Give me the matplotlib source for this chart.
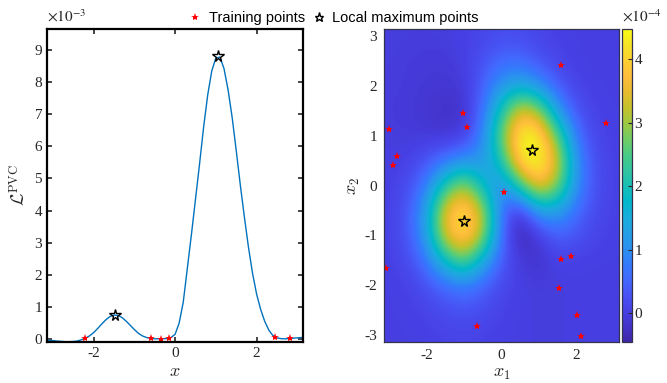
import numpy as np
import matplotlib
matplotlib.use("Agg")
import matplotlib.pyplot as plt
from matplotlib.colors import LinearSegmentedColormap
from matplotlib.lines import Line2D

plt.rcParams['mathtext.fontset'] = 'cm'
plt.rcParams['font.family'] = 'Liberation Serif'

# ---- 1D curve (values in units of 1e-3) ----
x_curve = [-3.14, -3.1, -3.0, -2.9, -2.8, -2.7, -2.6, -2.5, -2.4, -2.3, -2.2, -2.1,
           -2.0, -1.9, -1.8, -1.7, -1.6, -1.5, -1.4, -1.3, -1.2, -1.1, -1.0, -0.9,
           -0.8, -0.7, -0.6, -0.5, -0.4, -0.3, -0.2, -0.1, 0.0, 0.1, 0.2, 0.3, 0.4,
           0.5, 0.6, 0.7, 0.8, 0.9, 1.0, 1.1, 1.2, 1.3, 1.4, 1.5, 1.6, 1.7, 1.8,
           1.9, 2.0, 2.1, 2.2, 2.3, 2.4, 2.5, 2.6, 2.7, 2.8, 2.9, 3.0, 3.1, 3.14]
y_curve = [-0.03, -0.035, -0.045, -0.06, -0.07, -0.08, -0.08, -0.075, -0.06, -0.02,
           0.03, 0.10, 0.20, 0.33, 0.47, 0.60, 0.70, 0.75, 0.74, 0.67, 0.56, 0.43,
           0.30, 0.18, 0.10, 0.05, 0.02, 0.01, 0.01, 0.01, 0.02, 0.05, 0.15, 0.50,
           1.15, 2.2, 3.25, 4.35, 5.45, 6.6, 7.6, 8.35, 8.75, 8.78, 8.42, 7.76, 6.9,
           5.87, 4.8, 3.8, 2.86, 2.05, 1.4, 0.92, 0.55, 0.28, 0.11, 0.04, 0.015,
           0.01, 0.02, 0.03, 0.04, 0.05, 0.05]
train_x1d = [-2.2, -0.6, -0.34, -0.15, 2.45, 2.83]
train_y1d = [0.03, 0.02, 0.01, 0.03, 0.06, 0.02]
max_x1d = [-1.47, 1.05]
max_y1d = [0.75, 8.8]

# ---- 2D field (units of 1e-4), rows x2 = 3 ... -3, cols x1 = -3 ... 3 ----
grid_x1 = [-3.0, -2.5, -2.0, -1.5, -1.0, -0.5, 0.0, 0.5, 1.0, 1.5, 2.0, 2.5, 3.0]
grid_x2 = [3.0, 2.5, 2.0, 1.5, 1.0, 0.5, 0.0, -0.5, -1.0, -1.5, -2.0, -2.5, -3.0]
field = [
    [-0.02, -0.03, -0.03, -0.02, 0.03, 0.12, 0.2, 0.2, 0.1, 0.03, 0.0, 0.0, 0.0],
    [-0.03, -0.05, -0.07, -0.08, 0.0, 0.28, 0.55, 0.55, 0.3, 0.1, 0.0, 0.0, 0.0],
    [-0.03, -0.06, -0.1, -0.12, -0.08, 0.45, 1.1, 1.45, 1.0, 0.4, 0.08, 0.0, 0.0],
    [-0.05, -0.08, -0.15, -0.22, -0.2, 0.6, 2.05, 3.6, 3.05, 1.15, 0.3, 0.05, 0.0],
    [-0.03, -0.05, -0.08, -0.12, 0.0, 0.85, 2.7, 4.5, 4.45, 2.6, 0.65, 0.13, 0.02],
    [0.0, 0.05, 0.3, 0.68, 1.0, 1.1, 2.0, 4.35, 4.6, 3.45, 1.0, 0.22, 0.03],
    [0.0, 0.2, 0.78, 2.15, 3.15, 1.7, 0.9, 2.3, 3.85, 2.9, 1.0, 0.26, 0.03],
    [0.04, 0.33, 1.25, 3.65, 4.3, 3.25, 0.55, -0.15, 1.2, 1.3, 0.6, 0.18, 0.03],
    [0.04, 0.33, 1.2, 3.55, 4.25, 3.15, 0.55, -0.45, -0.05, 0.45, 0.3, 0.1, 0.02],
    [0.02, 0.18, 0.7, 1.85, 2.75, 1.45, 0.4, -0.05, -0.2, 0.05, 0.02, 0.0, 0.0],
    [0.0, 0.05, 0.27, 0.55, 0.75, 0.5, 0.14, 0.0, -0.03, -0.03, 0.0, 0.0, 0.0],
    [0.0, 0.02, 0.08, 0.2, 0.28, 0.2, 0.06, 0.0, -0.02, -0.02, 0.0, 0.0, 0.0],
    [0.0, 0.0, 0.02, 0.06, 0.08, 0.05, 0.02, 0.0, -0.02, -0.02, 0.0, 0.0, 0.0],
]
train_x1 = [1.60, -1.02, -0.92, -3.02, 2.81, -2.79, -2.90, 0.06, -3.09, 1.86, 1.59,
            1.54, 2.04, -0.65, 2.14]
train_x2 = [2.43, 1.45, 1.17, 1.14, 1.26, 0.60, 0.41, -0.12, -1.66, -1.41, -1.48,
            -2.06, -2.60, -2.82, -3.02]
max_x1 = [0.82, -1.0]
max_x2 = [0.71, -0.71]
cmin, cmax = -0.455, 4.47

# parula-like colormap
parula_pts = [(0.2422, 0.1504, 0.6603), (0.2647, 0.1978, 0.7952), (0.2783, 0.2559, 0.8991),
              (0.2810, 0.3228, 0.9579), (0.2602, 0.4123, 0.9952), (0.1963, 0.4847, 0.9892),
              (0.1687, 0.5703, 0.9359), (0.1380, 0.6276, 0.8973), (0.0952, 0.6798, 0.8598),
              (0.0036, 0.7203, 0.7917), (0.0964, 0.7500, 0.7120), (0.1938, 0.7758, 0.6251),
              (0.2906, 0.7973, 0.5188), (0.4456, 0.8024, 0.3909), (0.6174, 0.7876, 0.2612),
              (0.7738, 0.7598, 0.1646), (0.9035, 0.7330, 0.1774), (0.9956, 0.7434, 0.2371),
              (0.9892, 0.8136, 0.1885), (0.9610, 0.8890, 0.1537), (0.9769, 0.9839, 0.0805)]
parula = LinearSegmentedColormap.from_list('parula', parula_pts, N=256)

blue = (0, 0.447, 0.741)
dark = (0.15, 0.15, 0.15)

fig = plt.figure(figsize=(6.67, 3.83), dpi=100)

# ---- left axes ----
ax1 = fig.add_axes([0.0705, 0.107, 0.384, 0.817])
ax1.plot(x_curve, y_curve, color=blue, lw=1.0)
ax1.plot(train_x1d, train_y1d, '*', color='red', ms=6, mew=0)
ax1.plot(max_x1d, max_y1d, '*', mfc='none', mec='black', ms=8.5, mew=1.0)
ax1.set_xlim(-np.pi, np.pi)
ax1.set_ylim(-0.09, 9.65)
ax1.set_xticks([-2, 0, 2])
ax1.set_xticklabels(['-2', '0', '2'])
ax1.set_yticks(range(10))
ax1.tick_params(direction='in', length=3.5, width=1.2, top=True, right=True,
                labelsize=11, colors=dark, labelcolor=dark)
for s in ax1.spines.values():
    s.set_linewidth(1.6)
    s.set_color('black')
ax1.set_xlabel(r'$x$', fontsize=13, color=dark, labelpad=2)
ax1.set_ylabel(r'$\mathcal{L}^{\rm PVC}$', fontsize=13, color=dark, labelpad=4)
fig.text(0.0705, 0.935, r'$\times10^{-3}$', fontsize=11, color=dark,
         math_fontfamily='stix', ha='left', va='bottom')

# ---- right axes ----
ax2 = fig.add_axes([0.576, 0.107, 0.3514, 0.817])
im = ax2.imshow(np.array(field), extent=[-3.25, 3.25, -3.25, 3.25], origin='upper',
                cmap=parula, vmin=cmin, vmax=cmax, interpolation='bicubic',
                interpolation_stage='data', aspect='auto')
ax2.plot(train_x1, train_x2, '*', color='red', ms=6, mew=0)
ax2.plot(max_x1, max_x2, '*', mfc='none', mec='black', ms=8.5, mew=1.0)
ax2.set_xlim(-np.pi, np.pi)
ax2.set_ylim(-np.pi, np.pi)
ax2.set_xticks([-2, 0, 2])
ax2.set_xticklabels(['-2', '0', '2'])
ax2.set_yticks([-3, -2, -1, 0, 1, 2, 3])
ax2.set_yticklabels(['-3', '-2', '-1', '0', '1', '2', '3'])
ax2.tick_params(length=0, labelsize=11, labelcolor=dark, pad=5)
for s in ax2.spines.values():
    s.set_linewidth(0.9)
    s.set_color((0.2, 0.2, 0.3))
ax2.set_xlabel(r'$x_1$', fontsize=13, color=dark, labelpad=2)
ax2.set_ylabel(r'$x_2$', fontsize=13, color=dark, labelpad=2)

cax = fig.add_axes([0.933, 0.107, 0.0141, 0.817])
cb = fig.colorbar(im, cax=cax, ticks=[0, 1, 2, 3, 4])
cb.ax.tick_params(direction='in', length=3, width=0.8, labelsize=11, colors=dark,
                  labelcolor=dark, pad=2)
cb.outline.set_linewidth(0.9)
cb.outline.set_edgecolor((0.2, 0.2, 0.3))
fig.text(0.933, 0.935, r'$\times10^{-4}$', fontsize=11, color=dark,
         math_fontfamily='stix', ha='left', va='bottom')

# ---- legend ----
h1 = Line2D([], [], ls='none', marker='*', color='red', ms=6, mew=0)
h2 = Line2D([], [], ls='none', marker='*', mfc='none', mec='black', ms=6.5, mew=1.0)
fig.legend([h1, h2], ['Training points', 'Local maximum points'], loc='upper center',
           bbox_to_anchor=(0.5, 1.005), ncol=2, frameon=False,
           prop={'family': 'Liberation Sans', 'size': 10.5},
           handlelength=1.0, handletextpad=0.4, columnspacing=0.5)

fig.savefig('out.png', dpi=100)
